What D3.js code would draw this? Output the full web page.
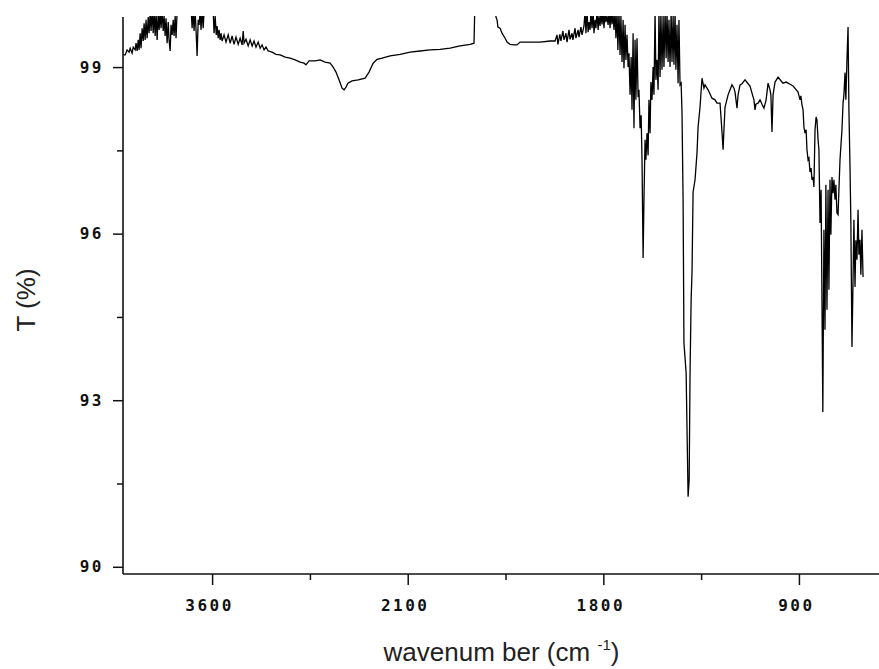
<!DOCTYPE html>
<html><head><meta charset="utf-8">
<script src="https://cdn.jsdelivr.net/npm/d3@7"></script>
<style>html,body{margin:0;padding:0;background:#fff;} svg{display:block}</style>
</head><body>
<svg id="chart" width="879" height="669"></svg>
<script>
// IR spectrum: [wavenumber (cm-1), transmittance (%)]
const spectrum = [
[4009,99.22],[4000,99.22],[3991,99.31],[3982,99.27],[3977,99.34],[3968,99.25],[3963,99.36],[3954,99.31],
[3950,99.43],[3945,99.29],[3940,99.49],[3936,99.31],[3931,99.61],[3927,99.34],[3922,99.70],[3917,99.47],
[3913,99.79],[3908,99.49],[3904,99.85],[3899,99.52],[3894,99.90],[3890,99.61],[3885,100.0],[3881,99.65],
[3876,100.0],[3871,99.61],[3867,100.0],[3862,99.56],[3858,100.0],[3853,99.49],[3848,100.0],[3844,99.67],
[3839,100.0],[3835,99.70],[3830,100.0],[3825,99.65],[3821,99.92],[3816,99.56],[3812,99.88],[3807,99.43],
[3802,99.81],[3798,99.49],[3793,99.29],[3789,99.76],[3784,99.58],[3779,99.85],[3775,99.56],[3770,99.92],
[3766,99.52],[3761,100.0],[3750,100.3],[3720,100.3],[3700,100.3],
[3692,99.70],[3687,100.0],[3683,99.65],[3678,100.0],[3674,99.67],[3669,99.20],[3664,99.85],[3660,99.76],
[3655,100.0],[3651,99.67],[3646,100.0],[3641,99.70],[3637,100.0],[3625,100.3],[3605,100.3],
[3595,100.0],[3591,99.61],[3586,99.92],[3581,99.58],[3577,99.74],[3572,99.52],[3568,99.67],[3563,99.49],
[3559,99.61],[3554,99.47],[3545,99.58],[3536,99.45],[3526,99.58],[3517,99.43],[3508,99.56],[3499,99.41],
[3490,99.54],[3480,99.41],[3471,99.52],[3462,99.40],[3457,99.65],[3453,99.43],[3444,99.50],[3434,99.38],
[3425,99.49],[3416,99.38],[3407,99.47],[3398,99.36],[3388,99.45],[3379,99.34],[3370,99.40],[3361,99.31],
[3352,99.36],[3342,99.29],
[3324,99.27],[3306,99.23],[3287,99.22],[3264,99.18],[3241,99.16],[3218,99.13],[3195,99.09],[3177,99.07],
[3168,99.04],[3154,99.11],[3126,99.11],[3103,99.13],[3080,99.09],[3057,99.07],[3043,99.00],[3030,98.91],
[3016,98.77],[3002,98.62],[2993,98.59],[2984,98.64],[2975,98.71],[2956,98.75],[2928,98.77],[2896,98.80],
[2878,98.91],[2859,99.07],[2841,99.14],[2818,99.16],[2781,99.20],[2735,99.23],[2689,99.27],[2643,99.29],
[2597,99.31],[2551,99.32],[2505,99.34],[2459,99.38],[2413,99.41],[2395,99.43],
[2390,100.3],[2340,100.3],[2296,100.3],
[2294,99.90],[2289,99.85],[2285,99.72],[2275,99.70],[2266,99.61],[2252,99.52],[2243,99.45],[2229,99.41],
[2211,99.40],[2197,99.40],[2183,99.45],[2160,99.45],[2137,99.45],[2091,99.45],[2045,99.47],[2022,99.47],
[2013,99.58],[2009,99.41],[2000,99.59],[1995,99.47],[1986,99.65],[1981,99.49],[1972,99.61],[1967,99.45],
[1958,99.67],[1953,99.50],[1944,99.61],[1940,99.49],[1930,99.70],[1926,99.52],[1916,99.67],[1912,99.54],
[1903,99.72],[1898,99.58],[1889,99.74],[1884,100.0],[1880,99.61],[1875,100.0],[1870,99.63],[1866,99.81],
[1861,99.67],[1857,100.0],[1852,99.70],[1847,100.0],[1843,99.61],[1838,99.85],[1834,99.70],[1829,100.0],
[1824,99.67],[1820,99.92],[1815,99.74],[1811,100.0],[1806,99.77],[1801,100.0],[1797,99.70],[1792,100.0],
[1788,99.81],[1783,99.92],[1778,99.76],[1774,100.0],[1769,99.70],[1765,100.0],[1760,99.77],[1756,100.0],
[1751,99.67],[1746,100.0],[1742,99.52],[1737,100.0],[1733,99.31],[1728,100.0],[1723,99.22],[1719,99.92],
[1714,99.09],[1709,99.85],[1705,98.98],[1700,99.76],[1696,99.13],[1691,99.58],[1686,99.00],[1682,99.25],
[1677,98.50],[1672,99.18],[1668,98.23],[1663,99.61],[1659,97.90],[1654,99.49],[1650,98.41],[1645,99.52],
[1640,98.46],[1636,98.59],[1631,97.90],[1626,98.13],[1622,97.33],[1617,95.56],[1613,96.61],[1608,97.69],
[1604,97.33],[1599,97.81],[1594,97.41],[1590,98.41],[1585,97.81],[1581,98.73],[1576,98.41],[1571,99.00],
[1567,98.50],[1562,100.0],[1558,98.77],[1553,99.13],[1548,98.59],[1544,100.0],[1539,98.82],[1535,100.0],
[1530,98.95],[1525,99.92],[1521,99.00],[1516,100.0],[1511,99.16],[1507,100.0],[1502,99.09],[1498,99.85],
[1493,99.00],[1488,100.0],[1484,99.09],[1479,99.92],[1475,99.04],[1470,100.0],[1466,98.95],[1461,99.76],
[1456,98.71],[1452,99.85],[1447,98.68],[1442,98.71],[1438,98.19],
[1433,96.61],[1429,94.03],[1419,93.49],[1410,91.26],[1405,91.57],[1401,93.49],[1396,94.81],[1392,95.29],
[1387,96.75],[1378,96.97],[1369,97.45],[1364,97.92],[1355,98.28],[1346,98.80],[1337,98.62],[1332,98.68],
[1318,98.59],[1300,98.44],[1286,98.41],[1277,98.35],[1263,98.35],[1254,97.83],[1249,97.51],[1245,97.87],
[1240,98.28],[1226,98.50],[1217,98.59],[1208,98.68],[1199,98.62],[1194,98.55],[1185,98.26],[1180,98.50],
[1171,98.68],[1162,98.70],[1148,98.77],[1134,98.70],[1125,98.66],[1116,98.53],[1107,98.41],[1102,98.23],
[1098,98.33],[1088,98.35],[1079,98.41],[1070,98.33],[1061,98.26],[1051,98.41],[1042,98.71],[1033,98.59],
[1029,98.50],[1024,97.83],[1019,98.50],[1010,98.73],[996,98.82],[982,98.75],[973,98.71],[959,98.73],
[941,98.69],[927,98.66],[914,98.60],[904,98.55],[895,98.41],[891,98.48],[886,98.32],[881,98.23],
[877,97.92],[872,97.81],[867,97.87],[863,97.51],[858,97.33],[854,97.36],[849,97.11],[844,97.18],
[840,96.97],[835,97.02],[831,96.84],[826,97.87],[821,98.10],[817,98.05],[812,97.69],[808,97.51],
[803,96.19],[798,96.79],[794,94.81],[790,92.79],[785,96.07],[780,94.27],[776,96.88],[771,94.63],
[766,96.79],[762,94.99],[757,96.97],[753,95.98],[748,97.02],[743,96.73],[739,96.97],[734,96.61],
[730,96.88],[725,96.37],[720,96.34],[716,96.79],[711,97.33],[702,97.87],[697,98.35],[693,98.50],
[688,98.90],[684,98.41],[679,99.13],[674,99.72],[670,98.23],[665,97.20],[661,96.19],[656,93.96],
[651,95.17],[647,96.25],[642,95.04],[638,95.88],[633,95.53],[628,96.43],[624,95.62],[619,95.89],
[615,95.26],[610,96.07],[605,95.22]
];
const xMajorTicks = [3600, 2700, 1800, 900];
const xTickLabels = ["3600", "2100", "1800", "900"];
const xMinorTicks = [3150, 2250, 1350];
const yMajorTicks = [90, 93, 96, 99];
const yTickLabels = ["90", "93", "96", "99"];
const yMinorTicks = [91.5, 94.5, 97.5];
const xTitle = "wavenum ber (cm";
const xTitleSup = "-1";
const yTitle = "T (%)";

const svg = d3.select("#chart");
const L = 123, R = 880, T = 16, B = 574;
const x = d3.scaleLinear().domain([4010, 527]).range([L, R]);
const y = d3.scaleLinear().domain([89.87, 99.92]).range([B, T]);

svg.append("rect").attr("width", 879).attr("height", 669).attr("fill", "#fff");

svg.append("clipPath").attr("id", "plotclip")
  .append("rect").attr("x", L).attr("y", T).attr("width", R - L).attr("height", B - T);

const line = d3.line().x(d => x(d[0])).y(d => y(d[1]));
svg.append("path").datum(spectrum)
  .attr("clip-path", "url(#plotclip)")
  .attr("d", line).attr("fill", "none")
  .attr("stroke", "#000").attr("stroke-width", 1.3).attr("stroke-linejoin", "miter");

const tickFont = "'DejaVu Sans Mono', monospace";

// X axis
const gx = svg.append("g").attr("transform", `translate(0,${B})`)
  .call(d3.axisBottom(x).tickValues(xMajorTicks).tickFormat((d, i) => xTickLabels[i])
    .tickSize(11).tickSizeOuter(0).tickPadding(15));
gx.select(".domain").remove();
gx.selectAll(".tick line").attr("stroke", "#111").attr("stroke-width", 1.5);
gx.selectAll(".tick text").attr("font-family", tickFont).attr("font-weight", "bold")
  .attr("font-size", 16).attr("letter-spacing", 2.5).attr("fill", "#111").attr("dx", -3);
const gxm = svg.append("g").attr("transform", `translate(0,${B})`)
  .call(d3.axisBottom(x).tickValues(xMinorTicks).tickFormat("").tickSize(6).tickSizeOuter(0));
gxm.select(".domain").remove();
gxm.selectAll(".tick line").attr("stroke", "#111").attr("stroke-width", 1.5);

// Y axis
const gy = svg.append("g").attr("transform", `translate(${L},0)`)
  .call(d3.axisLeft(y).tickValues(yMajorTicks).tickFormat((d, i) => yTickLabels[i])
    .tickSize(10).tickSizeOuter(0).tickPadding(9));
gy.select(".domain").remove();
gy.selectAll(".tick line").attr("stroke", "#111").attr("stroke-width", 1.5);
gy.selectAll(".tick text").attr("font-family", tickFont).attr("font-weight", "bold")
  .attr("font-size", 16).attr("letter-spacing", 2.5).attr("fill", "#111");
const gym = svg.append("g").attr("transform", `translate(${L},0)`)
  .call(d3.axisLeft(y).tickValues(yMinorTicks).tickFormat("").tickSize(6).tickSizeOuter(0));
gym.select(".domain").remove();
gym.selectAll(".tick line").attr("stroke", "#111").attr("stroke-width", 1.5);

// axis lines
svg.append("line").attr("x1", L).attr("x2", R).attr("y1", B).attr("y2", B)
  .attr("stroke", "#111").attr("stroke-width", 1.6);
svg.append("line").attr("x1", L).attr("x2", L).attr("y1", T + 1).attr("y2", B)
  .attr("stroke", "#111").attr("stroke-width", 1.6);

// titles
const titleFont = "'Liberation Sans', Arial, sans-serif";
const xt = svg.append("text").attr("x", (L + R) / 2).attr("y", 661)
  .attr("text-anchor", "middle").attr("font-family", titleFont).attr("font-size", 26)
  .attr("fill", "#222");
xt.append("tspan").text(xTitle + " ");
xt.append("tspan").attr("dy", -11).attr("font-size", 15).text(xTitleSup);
xt.append("tspan").attr("dy", 11).text(")");

svg.append("text").attr("transform", `translate(35,${300}) rotate(-90)`)
  .attr("text-anchor", "middle").attr("font-family", titleFont).attr("font-size", 26)
  .attr("fill", "#222").text(yTitle);
</script>
</body></html>
